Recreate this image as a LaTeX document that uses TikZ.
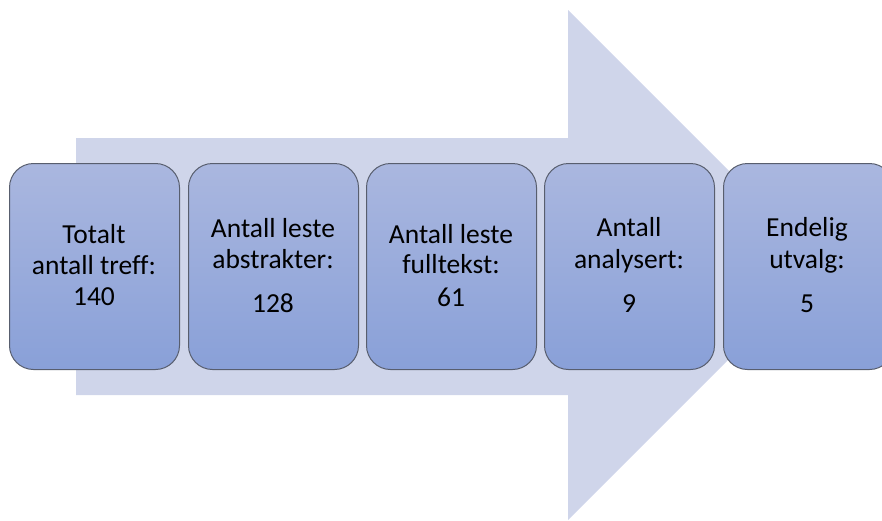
\documentclass[tikz,border=0pt]{standalone}
\usepackage{fontspec}
\setmainfont[Ligatures=NoCommon]{Carlito}
\definecolor{arrowfill}{RGB}{207,213,234}
\definecolor{boxtop}{RGB}{170,183,223}
\definecolor{boxbot}{RGB}{137,160,216}
\definecolor{boxline}{RGB}{88,94,110}
\begin{document}
\begin{tikzpicture}[x=1pt,y=-1pt,
  stepbox/.style={draw=boxline, line width=1pt, rounded corners=24pt,
    top color=boxtop, bottom color=boxbot, minimum width=170pt,
    minimum height=206pt, inner sep=0pt, anchor=north west},
  lbl/.style={font=\fontsize{27.5}{32}\selectfont, text=black, anchor=base, inner sep=0pt}]
\useasboundingbox (0,0) rectangle (882,520);
\clip (0,0) rectangle (882,520);
% big background arrow
\fill[arrowfill] (76,138) -- (568,138) -- (568,10) -- (823,265) -- (568,520) -- (568,395) -- (76,395) -- cycle;
% boxes
\node[stepbox] (b1) at (9,163) {};
\node[stepbox] (b2) at (188,163) {};
\node[stepbox] (b3) at (366,163) {};
\node[stepbox] (b4) at (544,163) {};
\node[stepbox] (b5) at (723,163) {};
% texts
\node[lbl] (t1a) at (94,243) {Totalt};
\node[lbl] (t1b) at (94,274) {antall treff:};
\node[lbl] (t1c) at (94,305) {140};
\node[lbl] (t2a) at (273,237) {Antall leste};
\node[lbl] (t2b) at (273,268) {abstrakter:};
\node[lbl] (t2c) at (273,312) {128};
\node[lbl] (t3a) at (451,243) {Antall leste};
\node[lbl] (t3b) at (451,273) {fulltekst:};
\node[lbl] (t3c) at (451,306) {61};
\node[lbl] (t4a) at (629,236) {Antall};
\node[lbl] (t4b) at (629,268) {analysert:};
\node[lbl] (t4c) at (629,312) {9};
\node[lbl] (t5a) at (807,236) {Endelig};
\node[lbl] (t5b) at (807,268) {utvalg:};
\node[lbl] (t5c) at (807,312) {5};
\end{tikzpicture}
\end{document}
